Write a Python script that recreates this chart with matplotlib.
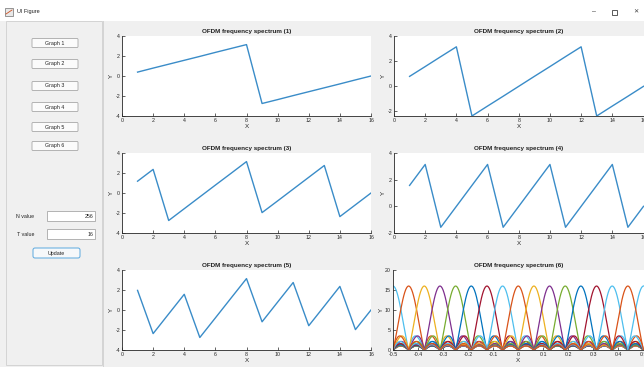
import numpy as np
import matplotlib.pyplot as plt
from matplotlib.patches import Rectangle, FancyBboxPatch

plt.rcParams['font.family'] = ['Liberation Sans', 'DejaVu Sans']
plt.rcParams['axes.unicode_minus'] = False

x_idx = list(range(1, 17))
phase1 = [0.39, 0.79, 1.18, 1.57, 1.96, 2.36, 2.75, 3.14, -2.75, -2.36, -1.96, -1.57, -1.18, -0.79, -0.39, 0.0]
phase2 = [0.79, 1.57, 2.36, 3.14, -2.36, -1.57, -0.79, 0.0, 0.79, 1.57, 2.36, 3.14, -2.36, -1.57, -0.79, 0.0]
phase3 = [1.18, 2.36, -2.75, -1.57, -0.39, 0.79, 1.96, 3.14, -1.96, -0.79, 0.39, 1.57, 2.75, -2.36, -1.18, 0.0]
phase4 = [1.57, 3.14, -1.57, 0.0, 1.57, 3.14, -1.57, 0.0, 1.57, 3.14, -1.57, 0.0, 1.57, 3.14, -1.57, 0.0]
phase5 = [1.96, -2.36, -0.39, 1.57, -2.75, -0.79, 1.18, 3.14, -1.18, 0.79, 2.75, -1.57, 0.39, 2.36, -1.96, 0.0]
phases = [phase1, phase2, phase3, phase4, phase5]
ylims = [(-4, 4), (-2.36, 4), (-4, 4), (-2, 4), (-4, 4)]

# panel 6: subcarrier spectra, 16 carriers, peak height 16
n_sub = 16
centers = [-0.5, -0.4375, -0.375, -0.3125, -0.25, -0.1875, -0.125, -0.0625,
           0.0, 0.0625, 0.125, 0.1875, 0.25, 0.3125, 0.375, 0.4375]
f6_ticks = [-0.5, -0.4, -0.3, -0.2, -0.1, 0, 0.1, 0.2, 0.3, 0.4, 0.5]
f6_labels = ['-0.5', '-0.4', '-0.3', '-0.2', '-0.1', '0', '0.1', '0.2', '0.3', '0.4', '0.5']

buttons = ['Graph 1', 'Graph 2', 'Graph 3', 'Graph 4', 'Graph 5', 'Graph 6']
n_value = '256'
t_value = '16'

ml_colors = ['#4DBEEE', '#D95319', '#EDB120', '#7E2F8E', '#77AC30', '#0072BD', '#A2142F']

W, H = 644, 367
fig = plt.figure(figsize=(W / 100, H / 100), dpi=100, facecolor='#f0f0f0')


def rect(l, t, w, h):
    return [l / W, 1 - (t + h) / H, w / W, h / H]


# window chrome, drawn on a background axes in pixel coords
bg = fig.add_axes([0, 0, 1, 1])
bg.set_xlim(0, W)
bg.set_ylim(H, 0)
bg.axis('off')
bg.add_patch(Rectangle((0, 0), W, 21, facecolor='white', edgecolor='none'))
bg.add_patch(Rectangle((5, 8), 8, 8, facecolor='#e8e8e8', edgecolor='#707070', lw=0.5))
bg.plot([6, 12], [14, 10], color='#d05020', lw=0.6)
bg.text(17, 12, 'UI Figure', fontsize=4, va='center', color='#202020')
bg.text(594, 12, '–', fontsize=5, ha='center', va='center', color='#404040')
bg.add_patch(Rectangle((612, 10), 5, 5, facecolor='none', edgecolor='#404040', lw=0.6))
bg.text(636, 12, '✕', fontsize=4.5, ha='center', va='center', color='#404040')
bg.add_patch(Rectangle((6, 21), 96, 344, facecolor='#f0f0f0', edgecolor='#d4d4d4', lw=0.7))
bg.plot([103, 103], [21, 367], color='#d4d4d4', lw=0.7)

btn_y = [43, 64, 86, 107, 127, 146]
for lab, yc in zip(buttons, btn_y):
    bg.add_patch(FancyBboxPatch((32, yc - 4.5), 46, 9, boxstyle='round,pad=0,rounding_size=1',
                                facecolor='#fbfbfb', edgecolor='#a8a8a8', lw=0.6))
    bg.text(55, yc, lab, fontsize=3.8, ha='center', va='center', color='#222222')

for lab, val, yc in [('N value', n_value, 216), ('T value', t_value, 234)]:
    bg.text(34, yc, lab, fontsize=3.8, ha='right', va='center', color='#222222')
    bg.add_patch(Rectangle((47, yc - 5), 48, 10, facecolor='white', edgecolor='#a8a8a8', lw=0.6))
    bg.text(93, yc, val, fontsize=3.8, ha='right', va='center', color='#222222')

bg.add_patch(FancyBboxPatch((33, 248), 47, 10, boxstyle='round,pad=0,rounding_size=2',
                            facecolor='#f6f8fa', edgecolor='#5aa8de', lw=0.7))
bg.text(56.5, 253, 'Update', fontsize=3.8, ha='center', va='center', color='#222222')

# axes positions (left, top, width, height) in px
ax_pos = [(122, 36, 249, 80), (394, 36, 249.5, 80),
          (122, 153, 249, 80), (394, 153, 249.5, 80),
          (122, 270, 249, 80), (393, 270, 250.5, 80)]


def style(ax, title):
    ax.set_facecolor('white')
    for s in ['top', 'right']:
        ax.spines[s].set_visible(False)
    for s in ['left', 'bottom']:
        ax.spines[s].set_color('#262626')
        ax.spines[s].set_linewidth(0.6)
    ax.tick_params(direction='in', length=2, width=0.5, labelsize=3.8, pad=1.5, colors='#262626')
    ax.set_title(title, fontsize=4.5, fontweight='bold', pad=2.5, color='#202020')
    ax.set_xlabel('X', fontsize=4.5, labelpad=0.5, color='#262626')
    ax.set_ylabel('Y', fontsize=4.5, labelpad=1, color='#262626')


for i in range(5):
    ax = fig.add_axes(rect(*ax_pos[i]))
    ax.plot(x_idx, phases[i], color='#3a8cc8', lw=1.0)
    ax.set_xlim(0, 16)
    ax.set_ylim(*ylims[i])
    ax.set_xticks(range(0, 17, 2))
    lo = int(np.ceil(ylims[i][0] / 2) * 2)
    ax.set_yticks(range(lo, 5, 2))
    style(ax, 'OFDM frequency spectrum (%d)' % (i + 1))

ax6 = fig.add_axes(rect(*ax_pos[5]))
f = np.linspace(-0.5, 0.5, 256)
for k, c in enumerate(centers):
    d = f - c
    den = np.sin(np.pi * d)
    safe = np.where(np.abs(den) < 1e-9, 1, den)
    y = np.where(np.abs(den) < 1e-9, n_sub, np.abs(np.sin(n_sub * np.pi * d) / safe))
    ax6.plot(f, y, color=ml_colors[k % 7], lw=0.9)
ax6.set_xlim(-0.5, 0.5)
ax6.set_ylim(0, 20)
ax6.set_xticks(f6_ticks)
ax6.set_xticklabels(f6_labels)
ax6.set_yticks([0, 5, 10, 15, 20])
style(ax6, 'OFDM frequency spectrum (6)')

fig.savefig('out.png', dpi=100, facecolor=fig.get_facecolor())
